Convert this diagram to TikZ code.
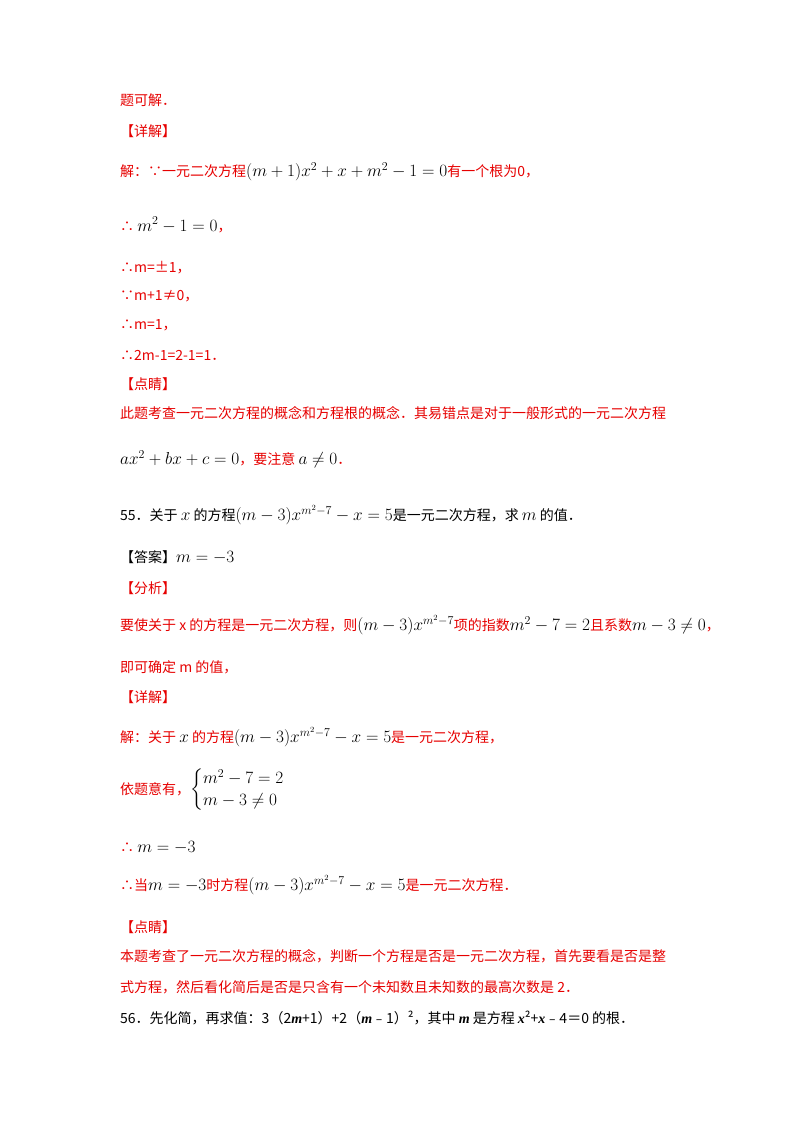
\documentclass[tikz,border=0pt]{standalone}
\usepackage{amsmath}
\usepackage{fontspec}
\setmainfont{Noto Sans CJK SC}
\newfontfamily\mth{Liberation Serif}
\definecolor{rd}{RGB}{230,0,0}
\newcommand{\MM}[1]{\textcolor{black}{\fontsize{16.5}{18}\selectfont$#1$}}
\begin{document}
\begin{tikzpicture}[x=1pt,y=-1pt,
 t/.style={anchor=west,inner sep=0pt,font=\fontsize{14}{16}\selectfont},
 r/.style={t,text=rd}]
\useasboundingbox (0,0) rectangle (800,1132);
\node[r] (l1) at (120,100) {题可解．};
\node[r] (l2) at (120,131) {【详解】};
\node[r] (l3) at (120,172) {解：∵一元二次方程\MM{(m+1)x^2+x+m^2-1=0}有一个根为0，};
\node[r] (l4) at (120,225) {∴ \MM{m^2-1=0}，};
\node[r] (l5) at (120,268) {∴m=±1，};
\node[r] (l6) at (120,296) {∵m+1≠0，};
\node[r] (l7) at (120,325) {∴m=1，};
\node[r] (l8) at (120,355) {∴2m-1=2-1=1．};
\node[r] (l9) at (120,384) {【点睛】};
\node[r] (l10) at (120,413) {此题考查一元二次方程的概念和方程根的概念．其易错点是对于一般形式的一元二次方程};
\node[r] (l11) at (120,459) {\MM{ax^2+bx+c=0}，要注意 \MM{a\neq0}．};
\node[t] (l12) at (120,515) {55．关于 \MM{x} 的方程\MM{(m-3)x^{m^2-7}-x=5}是一元二次方程，求 \MM{m} 的值．};
\node[t] (l13) at (120,557) {【答案】\MM{m=-3}};
\node[r] (l14) at (120,588) {【分析】};
\node[r] (l15) at (120,625) {要使关于 x 的方程是一元二次方程，则\MM{(m-3)x^{m^2-7}}项的指数\MM{m^2-7=2}且系数\MM{m-3\neq0}，};
\node[r] (l16) at (120,667) {即可确定 m 的值，};
\node[r] (l17) at (120,697) {【详解】};
\node[r] (l18) at (120,737) {解：关于 \MM{x} 的方程\MM{(m-3)x^{m^2-7}-x=5}是一元二次方程，};
\node[r] (l19) at (120,790) {依题意有，\MM{\begin{cases}m^2-7=2\\ m-3\neq0\end{cases}}};
\node[r] (l20) at (120,848) {∴ \MM{m=-3}};
\node[r] (l21) at (120,885) {∴当\MM{m=-3}时方程\MM{(m-3)x^{m^2-7}-x=5}是一元二次方程．};
\node[r] (l22) at (120,927) {【点睛】};
\node[r] (l23) at (120,956) {本题考查了一元二次方程的概念，判断一个方程是否是一元二次方程，首先要看是否是整};
\node[r] (l24) at (120,987) {式方程，然后看化简后是否是只含有一个未知数且未知数的最高次数是 2．};
\node[t] (l25) at (120,1018) {56．先化简，再求值：3（2{\mth\itshape\bfseries m}+1）+2（{\mth\itshape\bfseries m}﹣1）²，其中 {\mth\itshape\bfseries m} 是方程 {\mth\itshape\bfseries x}²+{\mth\itshape\bfseries x}﹣4＝0 的根．};
\end{tikzpicture}
\end{document}
